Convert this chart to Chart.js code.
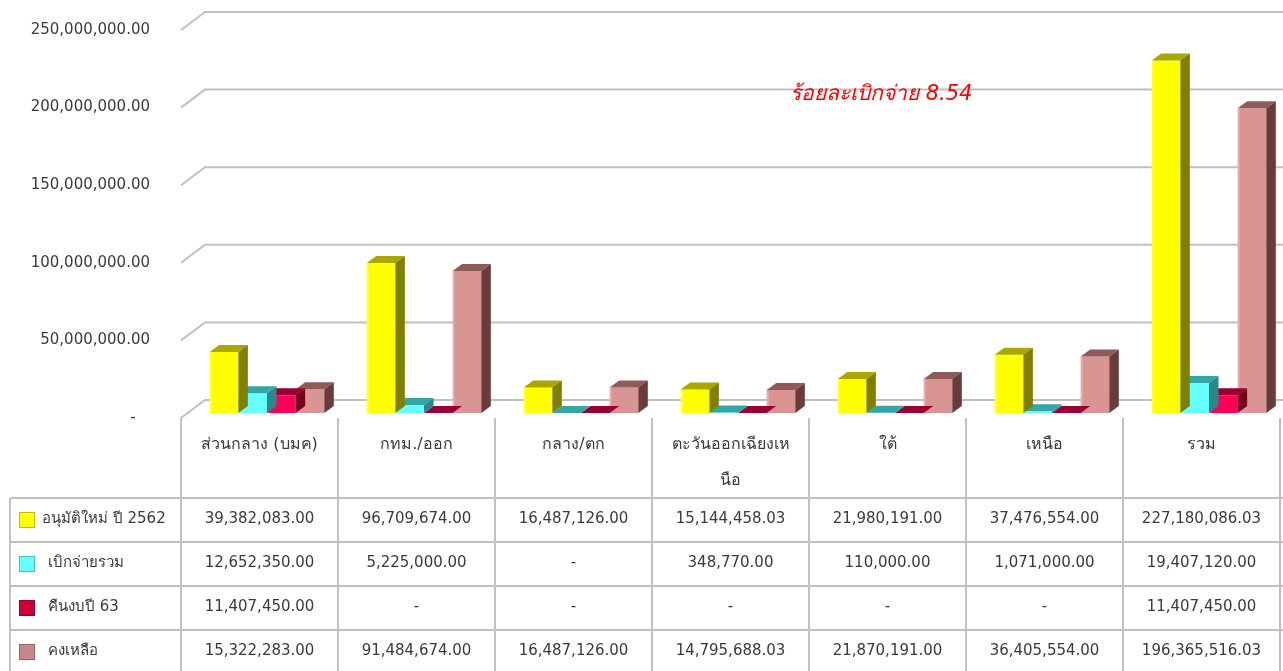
<!DOCTYPE html>
<html>
<head>
<meta charset="utf-8">
<title>ร้อยละเบิกจ่าย</title>
<script src="https://cdn.jsdelivr.net/npm/chart.js@4.4.1/dist/chart.umd.min.js"></script>
<style>
  html, body { margin: 0; padding: 0; overflow: hidden; background: #fff; }
  #wrap { position: relative; width: 1290px; height: 671px; }
</style>
</head>
<body>
<div id="wrap"><canvas id="graph"></canvas></div>
<script>
// หมวด (คอลัมน์) และชื่อชุดข้อมูล
const categories = ['ส่วนกลาง (บมค)', 'กทม./ออก', 'กลาง/ตก', ['ตะวันออกเฉียงเห', 'นือ'], 'ใต้', 'เหนือ', 'รวม'];
const seriesNames = ['อนุมัติใหม่ ปี 2562', 'เบิกจ่ายรวม', 'คืนงบปี 63', 'คงเหลือ'];

// ค่า (0 = "-")
const approved = [39382083.00, 96709674.00, 16487126.00, 15144458.03, 21980191.00, 37476554.00, 227180086.03];
const disbursed = [12652350.00, 5225000.00, 0, 348770.00, 110000.00, 1071000.00, 19407120.00];
const returned63 = [11407450.00, 0, 0, 0, 0, 0, 11407450.00];
const remaining = [15322283.00, 91484674.00, 16487126.00, 14795688.03, 21870191.00, 36405554.00, 196365516.03];

const yMax = 250000000;
const yStep = 50000000;
const note = 'ร้อยละเบิกจ่าย 8.54';

// สี: หน้า / บน / ข้าง / กล่องตำนาน
const frontColors = ['#ffff00', '#66ffff', '#ff0059', '#d99594'];
const topColors = ['#a8a800', '#34a6a6', '#9a0030', '#8e5a5a'];
const sideColors = ['#808000', '#2b8888', '#75001f', '#6b3a3a'];
const swatchColors = ['#ffff00', '#66ffff', '#cc0033', '#c98787'];

const font = '"DejaVu Sans", "Noto Sans", sans-serif';
const textColor = '#3a3a3a';
const lineColor = '#c0c0c0';
const DX = 9.5, DY = -7; // ความลึกแท่ง 3 มิติ

const fmt = v => v
  ? v.toLocaleString('en-US', { minimumFractionDigits: 2, maximumFractionDigits: 2 })
  : '-';

const allSeries = [approved, disbursed, returned63, remaining];

// ผนังหลัง + พื้นเอียง
const walls = {
  id: 'walls',
  beforeDatasetsDraw(chart) {
    const { ctx, chartArea, scales: { y } } = chart;
    ctx.save();
    ctx.strokeStyle = lineColor;
    ctx.lineWidth = 2;
    y.ticks.forEach(t => {
      const py = y.getPixelForValue(t.value);
      ctx.beginPath();
      ctx.moveTo(chartArea.left - 7.5, py + 5);
      ctx.lineTo(chartArea.left + 16.5, py - 13);
      ctx.lineTo(chart.width, py - 13);
      ctx.stroke();
    });
    ctx.restore();
  }
};

// ด้านบนและด้านข้างของแท่ง
const bars3d = {
  id: 'bars3d',
  afterDatasetDraw(chart, args) {
    const i = args.index;
    const ctx = chart.ctx;
    ctx.save();
    args.meta.data.forEach(bar => {
      const { x, y, base, width } = bar.getProps(['x', 'y', 'base', 'width'], true);
      const l = x - width / 2, r = x + width / 2;
      ctx.fillStyle = topColors[i];
      ctx.beginPath();
      ctx.moveTo(l, y); ctx.lineTo(r, y); ctx.lineTo(r + DX, y + DY); ctx.lineTo(l + DX, y + DY);
      ctx.closePath(); ctx.fill();
      ctx.fillStyle = sideColors[i];
      ctx.beginPath();
      ctx.moveTo(r, y); ctx.lineTo(r + DX, y + DY); ctx.lineTo(r + DX, base + DY); ctx.lineTo(r, base);
      ctx.closePath(); ctx.fill();
      // ขอบสว่างด้านหน้า
      if (base - y > 3) {
        ctx.fillStyle = 'rgba(255,255,255,0.25)';
        ctx.fillRect(l, y, 2, base - y);
      }
    });
    ctx.restore();
  }
};

// ตารางข้อมูลด้านล่าง + ข้อความร้อยละ
const dataTable = {
  id: 'dataTable',
  afterDraw(chart) {
    const { ctx, chartArea, scales: { x, y } } = chart;
    const n = categories.length;
    const colW = x.width / n;
    const edges = categories.map((c, k) => x.getPixelForValue(k) - colW / 2 - 7.5);
    edges.push(edges[n - 1] + colW);
    const floorY = chartArea.bottom + 5;
    const rowTop = chartArea.bottom + 85;
    const rowH = 44;
    const bottom = chart.height;

    ctx.save();
    ctx.strokeStyle = lineColor;
    ctx.lineWidth = 2;
    edges.forEach(ex => {
      ctx.beginPath(); ctx.moveTo(ex, floorY); ctx.lineTo(ex, bottom); ctx.stroke();
    });
    ctx.beginPath(); ctx.moveTo(10, rowTop); ctx.lineTo(10, bottom); ctx.stroke();
    for (let r = 0; r <= seriesNames.length; r++) {
      const ry = rowTop + r * rowH;
      ctx.beginPath(); ctx.moveTo(10, ry); ctx.lineTo(chart.width, ry); ctx.stroke();
    }

    ctx.fillStyle = textColor;
    ctx.textAlign = 'center';
    ctx.textBaseline = 'middle';
    ctx.font = '16px ' + font;
    categories.forEach((c, k) => {
      const lines = Array.isArray(c) ? c : [c];
      const cx = (edges[k] + edges[k + 1]) / 2;
      lines.forEach((t, j) => ctx.fillText(t, cx, floorY + 27 + j * 36));
    });

    ctx.font = '15px ' + font;
    seriesNames.forEach((name, s) => {
      const cy = rowTop + s * rowH + 21;
      ctx.fillStyle = swatchColors[s];
      ctx.fillRect(19, cy - 7, 16, 16);
      ctx.strokeStyle = 'rgba(0,0,0,0.25)';
      ctx.lineWidth = 1;
      ctx.strokeRect(19.5, cy - 6.5, 15, 15);
      ctx.fillStyle = textColor;
      ctx.textAlign = 'left';
      ctx.fillText(name, s === 0 ? 42 : 48, cy);
      ctx.textAlign = 'center';
      allSeries[s].forEach((v, k) => {
        ctx.fillText(fmt(v), (edges[k] + edges[k + 1]) / 2, cy);
      });
    });

    // ข้อความร้อยละเบิกจ่าย
    ctx.fillStyle = '#ff0000';
    ctx.font = 'italic 21px ' + font;
    ctx.textAlign = 'left';
    ctx.fillText(note, x.getPixelForValue(3) + 52, y.getPixelForValue(205000000));
    ctx.restore();
  }
};

const data = {
  labels: categories,
  datasets: seriesNames.map((name, s) => ({
    label: name,
    data: allSeries[s],
    backgroundColor: frontColors[s],
    borderWidth: 0,
    barPercentage: 1,
    categoryPercentage: 0.73
  }))
};

const config = {
  type: 'bar',
  data: data,
  options: {
    responsive: true,
    maintainAspectRatio: false,
    animation: false,
    layout: { padding: { top: 25, bottom: 258, left: 0, right: 2.5 } },
    scales: {
      x: { display: false },
      y: {
        min: 0,
        max: yMax,
        afterFit: s => {
          s.width = 188.5;
          s.paddingTop = 0;
          s.paddingBottom = 0;
        },
        grid: { display: false, drawTicks: false },
        border: { display: false },
        ticks: {
          stepSize: yStep,
          padding: 38.5,
          labelOffset: 5,
          color: textColor,
          font: { family: font, size: 15 },
          // แบบบัญชี: ศูนย์แสดงเป็น "-" เว้นท้าย
          callback: v => v ? fmt(v) : '-   '
        }
      }
    },
    plugins: {
      legend: { display: false },
      tooltip: { enabled: false }
    }
  },
  plugins: [walls, bars3d, dataTable]
};

let myChart = new Chart(document.getElementById('graph'), config);
</script>
</body>
</html>
